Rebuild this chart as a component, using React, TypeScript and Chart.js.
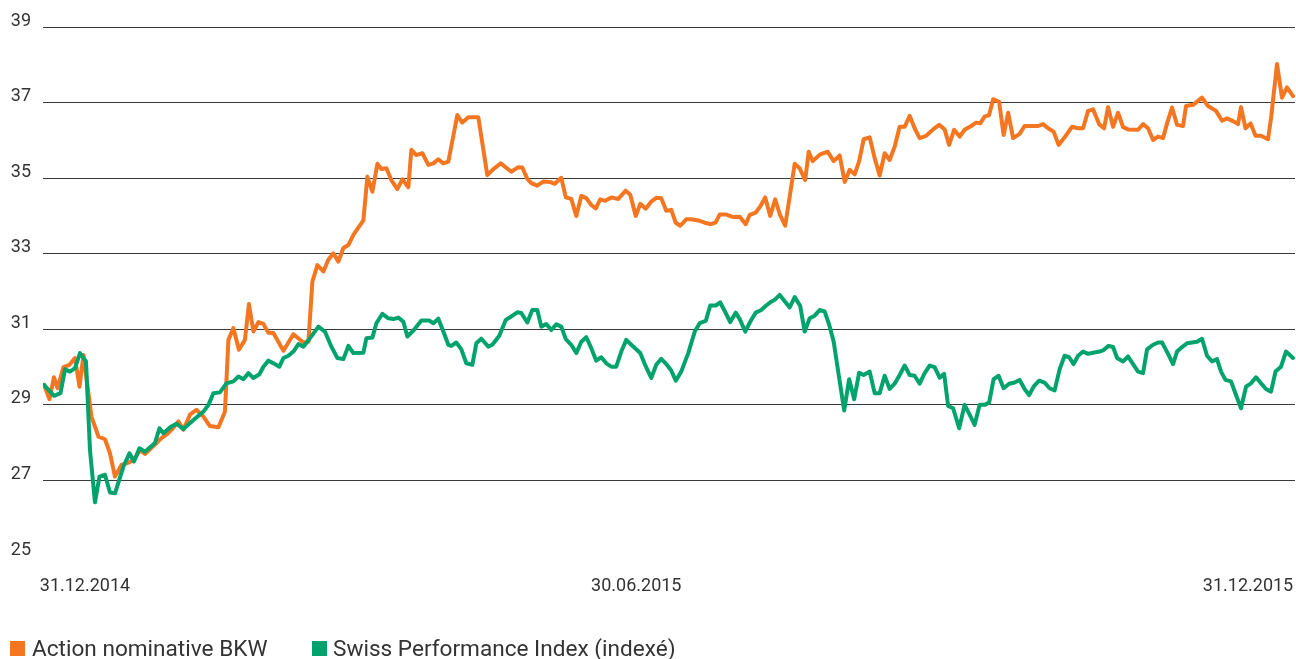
import { useEffect, useRef } from 'react';
import { Chart, registerables } from 'chart.js';

Chart.register(...registerables);

// Trading-day index (0 = 31.12.2014) and closing values
const bkwDays = [
  0, 1.1, 2.0, 2.7, 3.9, 5.1, 6.2, 7.1, 7.9, 9.5,
  10.9, 12.2, 13.2, 14.2, 15.5, 16.9, 18.0, 19.2, 20.2, 22.2,
  23.5, 24.5, 25.6, 26.9, 27.9, 29.2, 30.5, 31.9, 33.2, 34.9,
  36.2, 36.9, 37.9, 39.0, 40.2, 41.0, 41.9, 42.9, 43.9, 44.9,
  45.9, 47.9, 49.9, 51.9, 52.9, 53.7, 54.7, 55.9, 56.9, 57.9,
  58.9, 59.9, 60.9, 61.9, 63.9, 64.7, 65.7, 66.7, 67.5, 68.5,
  69.5, 70.7, 71.7, 72.9, 73.5, 74.5, 75.7, 76.9, 77.9, 78.9,
  79.9, 80.9, 82.7, 83.7, 84.9, 86.9, 88.7, 89.9, 91.4, 93.5,
  94.9, 95.7, 96.7, 97.5, 98.7, 99.9, 101.2, 102.2, 103.5, 104.4,
  105.5, 106.5, 107.5, 108.5, 109.5, 110.4, 111.3, 112.3, 113.5, 114.9,
  116.4, 117.3, 118.4, 119.3, 120.4, 121.5, 122.5, 123.5, 124.5, 125.5,
  126.4, 127.3, 128.5, 129.5, 130.9, 132.2, 133.4, 134.4, 135.2, 136.4,
  137.9, 139.2, 140.4, 141.2, 142.4, 143.3, 144.3, 145.3, 146.3, 147.2,
  148.3, 149.2, 150.2, 151.2, 152.3, 153.0, 153.8, 155.2, 156.8, 158.0,
  159.2, 160.2, 161.2, 162.2, 163.1, 164.0, 165.2, 166.2, 167.2, 168.2,
  169.2, 170.2, 171.2, 172.2, 173.2, 174.2, 175.2, 176.5, 177.9, 179.1,
  180.2, 181.1, 182.1, 183.2, 184.2, 185.5, 186.5, 187.3, 188.2, 189.1,
  189.9, 191.1, 192.0, 192.9, 193.9, 195.2, 196.2, 197.5, 198.9, 199.9,
  200.9, 202.0, 203.0, 204.2, 205.7, 206.9, 207.9, 208.9, 209.9, 211.1,
  212.1, 212.9, 213.9, 214.9, 215.9, 216.9, 218.9, 219.9, 220.9, 221.9,
  222.9, 223.9, 224.7, 225.7, 226.7, 227.9, 228.5, 229.9, 231.7, 232.9,
  234.5, 235.7, 236.7, 238.2, 238.9, 239.5, 240.4, 241.4, 242.4, 243.5,
  244.9, 245.5, 246.7, 247.7, 248.7, 249.9,
];
const bkwValues = [
  29.53, 29.15, 29.73, 29.44, 30.0, 30.06, 30.24, 29.48, 30.32, 28.69,
  28.16, 28.09, 27.72, 27.1, 27.41, 27.47, 27.55, 27.8, 27.7, 27.95,
  28.12, 28.21, 28.35, 28.56, 28.34, 28.74, 28.87, 28.69, 28.44, 28.41,
  28.82, 30.72, 31.03, 30.46, 30.72, 31.67, 30.94, 31.19, 31.14, 30.91,
  30.9, 30.43, 30.87, 30.65, 30.67, 32.26, 32.7, 32.53, 32.84, 33.01,
  32.79, 33.15, 33.23, 33.5, 33.88, 35.04, 34.64, 35.38, 35.24, 35.26,
  34.95, 34.71, 34.97, 34.76, 35.75, 35.61, 35.66, 35.35, 35.39, 35.5,
  35.39, 35.44, 36.67, 36.47, 36.61, 36.61, 35.08, 35.24, 35.39, 35.17,
  35.29, 35.28, 34.98, 34.87, 34.8, 34.91, 34.9, 34.85, 35.01, 34.49,
  34.45, 34.0, 34.53, 34.47, 34.29, 34.2, 34.44, 34.4, 34.49, 34.45,
  34.67, 34.56, 34.0, 34.32, 34.19, 34.38, 34.48, 34.47, 34.14, 34.16,
  33.82, 33.74, 33.91, 33.91, 33.88, 33.82, 33.78, 33.83, 34.04, 34.04,
  33.97, 33.98, 33.78, 34.03, 34.09, 34.25, 34.49, 34.0, 34.44, 34.05,
  33.74, 34.51, 35.38, 35.26, 34.95, 35.7, 35.45, 35.62, 35.7, 35.45,
  35.6, 34.9, 35.22, 35.1, 35.45, 36.03, 36.08, 35.53, 35.07, 35.66,
  35.48, 35.83, 36.36, 36.36, 36.65, 36.32, 36.06, 36.12, 36.29, 36.41,
  36.29, 35.88, 36.28, 36.1, 36.28, 36.38, 36.47, 36.45, 36.63, 36.67,
  37.09, 37.02, 36.14, 36.73, 36.06, 36.17, 36.38, 36.38, 36.38, 36.43,
  36.32, 36.23, 35.88, 36.08, 36.36, 36.32, 36.32, 36.78, 36.82, 36.43,
  36.32, 36.88, 36.36, 36.73, 36.35, 36.29, 36.28, 36.43, 36.32, 36.01,
  36.1, 36.06, 36.45, 36.87, 36.41, 36.38, 36.91, 36.94, 37.13, 36.91,
  36.78, 36.52, 36.58, 36.49, 36.43, 36.88, 36.32, 36.45, 36.12, 36.12,
  36.03, 36.58, 38.02, 37.13, 37.4, 37.17,
];

const spiDays = [
  0, 2.0, 3.3, 4.2, 5.2, 6.2, 7.2, 8.4, 9.2, 10.2,
  11.1, 12.2, 13.2, 14.2, 15.9, 17.1, 18.0, 19.1, 20.2, 22.2,
  23.1, 23.9, 25.5, 26.5, 27.9, 29.9, 31.9, 32.9, 33.9, 35.2,
  36.5, 37.9, 38.9, 39.9, 40.9, 41.9, 43.1, 43.9, 44.9, 45.9,
  47.1, 47.9, 48.9, 49.9, 50.9, 51.9, 53.2, 54.9, 56.2, 57.5,
  58.7, 59.9, 60.9, 61.9, 63.9, 64.5, 65.7, 66.5, 67.7, 68.9,
  69.9, 70.9, 71.9, 72.7, 74.0, 75.5, 77.1, 77.9, 78.9, 79.9,
  80.9, 81.5, 82.5, 83.5, 84.5, 85.7, 86.5, 87.5, 88.9, 89.7,
  91.1, 92.4, 93.5, 94.7, 95.5, 96.7, 97.7, 98.7, 99.5, 100.5,
  101.5, 102.5, 103.5, 104.4, 105.5, 106.5, 107.5, 108.5, 109.5, 110.5,
  111.5, 112.5, 113.5, 114.5, 115.5, 116.5, 117.5, 119.3, 120.2, 121.5,
  122.5, 123.5, 124.5, 125.5, 126.4, 127.5, 128.9, 130.2, 131.2, 132.4,
  133.3, 134.4, 135.3, 136.4, 137.3, 138.4, 139.2, 140.3, 141.3, 142.4,
  143.5, 144.5, 145.5, 146.2, 147.2, 148.4, 149.2, 150.2, 151.3, 152.2,
  153.2, 154.2, 155.2, 156.2, 157.1, 158.0, 159.1, 160.1, 161.1, 162.1,
  163.1, 164.0, 165.2, 166.2, 167.2, 168.2, 169.2, 170.2, 171.2, 172.2,
  173.2, 174.2, 175.2, 176.2, 177.2, 178.2, 179.2, 180.1, 180.9, 181.9,
  183.1, 184.2, 185.2, 186.2, 187.2, 188.2, 189.1, 190.0, 191.0, 192.0,
  193.1, 194.2, 195.2, 196.2, 197.1, 198.0, 199.1, 200.2, 201.2, 202.2,
  203.2, 204.2, 205.1, 206.0, 206.9, 207.9, 208.9, 209.9, 211.2, 212.0,
  213.0, 213.9, 214.7, 215.9, 216.9, 218.0, 218.9, 219.9, 220.7, 221.9,
  222.9, 223.7, 224.9, 225.9, 226.7, 227.7, 228.7, 229.7, 230.7, 231.7,
  232.7, 233.7, 234.7, 235.5, 236.4, 237.5, 238.5, 239.5, 240.5, 241.5,
  242.5, 243.5, 244.5, 245.5, 246.4, 247.5, 248.5, 249.9,
];
const spiValues = [
  29.53, 29.24, 29.31, 29.94, 29.88, 29.97, 30.37, 30.15, 27.81, 26.42,
  27.1, 27.15, 26.68, 26.66, 27.37, 27.72, 27.5, 27.85, 27.76, 27.99,
  28.38, 28.25, 28.43, 28.5, 28.36, 28.6, 28.82, 29.0, 29.31, 29.33,
  29.57, 29.62, 29.75, 29.68, 29.84, 29.71, 29.81, 30.01, 30.17, 30.1,
  30.01, 30.24, 30.3, 30.41, 30.61, 30.54, 30.76, 31.07, 30.94, 30.54,
  30.24, 30.21, 30.56, 30.37, 30.38, 30.76, 30.78, 31.16, 31.41, 31.29,
  31.27, 31.31, 31.2, 30.81, 30.98, 31.23, 31.23, 31.16, 31.28, 30.94,
  30.59, 30.56, 30.65, 30.47, 30.1, 30.06, 30.63, 30.75, 30.54, 30.59,
  30.83, 31.25, 31.34, 31.45, 31.43, 31.18, 31.51, 31.51, 31.07, 31.14,
  30.98, 31.13, 31.07, 30.74, 30.59, 30.37, 30.67, 30.79, 30.5, 30.17,
  30.26, 30.1, 30.01, 30.01, 30.41, 30.72, 30.59, 30.37, 30.08, 29.71,
  30.06, 30.22, 30.08, 29.91, 29.64, 29.88, 30.37, 30.94, 31.16, 31.22,
  31.63, 31.63, 31.71, 31.43, 31.19, 31.44, 31.27, 30.94, 31.2, 31.44,
  31.51, 31.63, 31.73, 31.78, 31.91, 31.71, 31.58, 31.85, 31.62, 30.94,
  31.29, 31.36, 31.51, 31.47, 31.12, 30.67, 29.71, 28.85, 29.68, 29.15,
  29.85, 29.79, 29.88, 29.31, 29.31, 29.77, 29.42, 29.56, 29.79, 30.04,
  29.79, 29.77, 29.56, 29.84, 30.04, 30.0, 29.72, 29.82, 28.97, 28.91,
  28.38, 29.0, 28.74, 28.47, 29.0, 29.0, 29.06, 29.68, 29.77, 29.44,
  29.56, 29.59, 29.66, 29.42, 29.26, 29.48, 29.64, 29.59, 29.44, 29.38,
  29.94, 30.3, 30.26, 30.08, 30.3, 30.41, 30.35, 30.38, 30.41, 30.45,
  30.56, 30.53, 30.24, 30.15, 30.28, 30.06, 29.88, 29.84, 30.47, 30.59,
  30.65, 30.65, 30.35, 30.08, 30.41, 30.53, 30.63, 30.65, 30.67, 30.75,
  30.3, 30.15, 30.21, 29.88, 29.66, 29.62, 29.26, 28.91, 29.48, 29.57,
  29.73, 29.57, 29.42, 29.35, 29.88, 30.01, 30.41, 30.24,
];

const seriesLabels = ['Action nominative BKW', 'Swiss Performance Index (indexé)'];
const seriesColors = ['#F47621', '#00A36C'];

const xTickLabels = ['31.12.2014', '30.06.2015', '31.12.2015'];
const xTickPositions = [8.2, 118.5, 240.9];

const yMin = 25;
const yMax = 39;
const yStep = 2;

const FONT = 'Roboto, "Noto Sans", sans-serif';
const TEXT_COLOR = '#333333';

const bottomLegend = {
  id: 'bottomLegend',
  afterDraw(chart: any) {
    const ctx = chart.ctx;
    const spots = [
      { box: 10, text: 32 },
      { box: 312, text: 333 },
    ];
    ctx.save();
    ctx.font = `22.6px ${FONT}`;
    ctx.textBaseline = 'alphabetic';
    ctx.textAlign = 'left';
    chart.data.datasets.forEach((ds: any, i: number) => {
      const s = spots[i];
      if (!s) return;
      ctx.fillStyle = ds.borderColor;
      ctx.fillRect(s.box, 641, 15, 15);
      ctx.fillStyle = TEXT_COLOR;
      ctx.fillText(ds.label, s.text, 656);
    });
    ctx.restore();
  },
};

export default function App() {
  const canvasRef = useRef<HTMLCanvasElement | null>(null);

  useEffect(() => {
    document.body.style.margin = '0';
    const canvas = canvasRef.current;
    if (!canvas) return;

    const chart = new Chart(canvas, {
      type: 'line',
      data: {
        datasets: [
          {
            label: seriesLabels[0],
            data: bkwDays.map((d, i) => ({ x: d, y: bkwValues[i] })),
            borderColor: seriesColors[0],
            backgroundColor: seriesColors[0],
            borderWidth: 4,
            pointRadius: 0,
            tension: 0,
            borderJoinStyle: 'round',
            borderCapStyle: 'round',
            fill: false,
            order: 1,
          },
          {
            label: seriesLabels[1],
            data: spiDays.map((d, i) => ({ x: d, y: spiValues[i] })),
            borderColor: seriesColors[1],
            backgroundColor: seriesColors[1],
            borderWidth: 4,
            pointRadius: 0,
            tension: 0,
            borderJoinStyle: 'round',
            borderCapStyle: 'round',
            fill: false,
            order: 0,
          },
        ],
      },
      options: {
        responsive: false,
        animation: false,
        devicePixelRatio: 1,
        layout: { padding: { top: 27, left: 0, right: 1, bottom: 0 } },
        plugins: {
          legend: { display: false },
          tooltip: { enabled: false },
        },
        scales: {
          x: {
            type: 'linear',
            min: -0.2,
            max: 250.3,
            grid: { display: false },
            border: { display: false },
            afterBuildTicks: (scale: any) => {
              scale.ticks = xTickPositions.map((v) => ({ value: v }));
            },
            afterFit: (scale: any) => {
              scale.height = 103;
              scale.paddingLeft = 0;
              scale.paddingRight = 0;
            },
            ticks: {
              autoSkip: false,
              maxRotation: 0,
              padding: 12,
              color: TEXT_COLOR,
              font: { family: FONT, size: 18 },
              callback: (_v: any, i: number) => xTickLabels[i],
            },
          },
          y: {
            min: yMin,
            max: yMax,
            afterFit: (scale: any) => {
              scale.width = 43;
            },
            border: { display: false },
            grid: {
              drawTicks: false,
              lineWidth: 1,
              color: (ctx: any) => (ctx.tick && ctx.tick.value === yMin ? 'rgba(0,0,0,0)' : '#3a3a3a'),
            },
            ticks: {
              stepSize: yStep,
              padding: 12,
              labelOffset: -6,
              color: TEXT_COLOR,
              font: { family: FONT, size: 18 },
            },
          },
        },
      },
      plugins: [bottomLegend],
    });

    return () => chart.destroy();
  }, []);

  return (
    <div style={{ position: 'absolute', left: 0, top: 0, width: 1296, height: 659 }}>
      <canvas ref={canvasRef} width={1296} height={659} style={{ display: 'block' }} />
    </div>
  );
}
